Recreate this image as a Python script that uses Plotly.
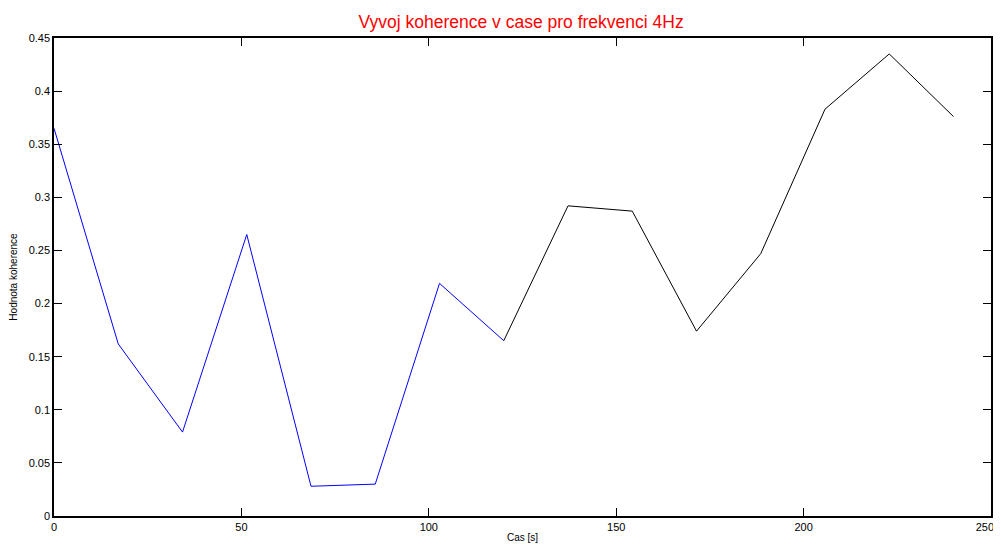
import plotly.graph_objects as go

# Data
time_blue = [0, 17.14, 34.29, 51.43, 68.57, 85.71, 102.86, 120.0]
coh_blue = [0.365, 0.162, 0.079, 0.265, 0.028, 0.030, 0.219, 0.165]
time_black = [120.0, 137.14, 154.29, 171.43, 188.57, 205.71, 222.86, 240.0]
coh_black = [0.165, 0.292, 0.287, 0.174, 0.247, 0.383, 0.435, 0.376]

x_ticks = [0, 50, 100, 150, 200, 250]
# last label padded so it stays inside the visible page edge
x_tick_labels = ["0", "50", "100", "150", "200", "250\u00a0\u00a0\u00a0\u00a0"]
y_ticks = [0, 0.05, 0.1, 0.15, 0.2, 0.25, 0.3, 0.35, 0.4, 0.45]
y_tick_labels = ["0", "0.05", "0.1", "0.15", "0.2", "0.25", "0.3", "0.35", "0.4", "0.45"]

fig = go.Figure()
fig.add_trace(go.Scatter(x=time_blue, y=coh_blue, mode="lines",
                         line=dict(color="#0000ff", width=1), showlegend=False))
fig.add_trace(go.Scatter(x=time_black, y=coh_black, mode="lines",
                         line=dict(color="#000000", width=1), showlegend=False))

# The page body has an 8px default margin, so the figure is sized to fit.
font_family = "Liberation Sans, Arial, sans-serif"
fig.update_layout(
    width=993, height=539,
    margin=dict(l=46, r=10, t=30, b=31, autoexpand=False),
    paper_bgcolor="white", plot_bgcolor="white",
    font=dict(family=font_family, size=11, color="black"),
    title=dict(text="Vyvoj koherence v case pro frekvenci 4Hz",
               font=dict(family=font_family, size=17.5, color="#ff0000"),
               x=0.4985, xanchor="center", y=0.974, yanchor="middle",
               xref="paper", yref="container"),
    xaxis=dict(range=[0, 250], tickvals=x_ticks, ticktext=x_tick_labels,
               ticks="inside", ticklen=8,
               tickcolor="black", tickwidth=1, showgrid=False, zeroline=False,
               showline=True, linecolor="black", linewidth=1.5, mirror="ticks",
               automargin=False, ticklabeloverflow="allow",
               title=dict(text="Cas [s]", font=dict(size=10), standoff=2),
               tickfont=dict(size=11)),
    yaxis=dict(range=[0, 0.45], tickvals=y_ticks, ticktext=y_tick_labels,
               ticks="inside", ticklen=8, tickcolor="black", tickwidth=1,
               showgrid=False, zeroline=False, automargin=False,
               showline=True, linecolor="black", linewidth=1.5, mirror="ticks",
               ticklabeloverflow="allow",
               title=dict(text="Hodnota koherence", font=dict(size=10), standoff=15),
               tickfont=dict(size=11)),
)

fig.write_html("out.html")
